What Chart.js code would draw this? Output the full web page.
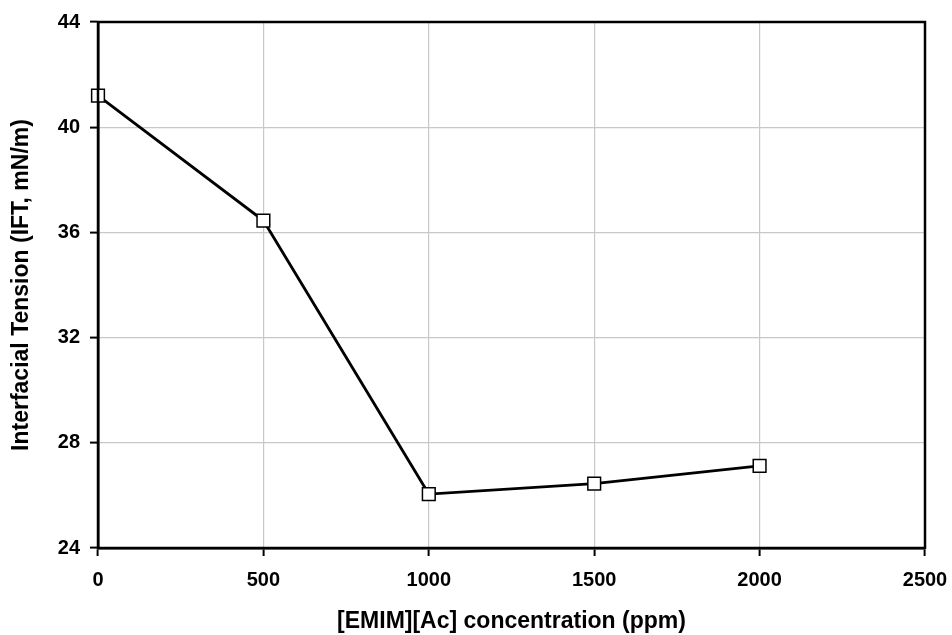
<!DOCTYPE html>
<html>
<head>
<meta charset="utf-8">
<script src="https://cdn.jsdelivr.net/npm/chart.js@4.4.1/dist/chart.umd.min.js"></script>
<style>
html,body{margin:0;padding:0;background:#fff;}
#wrap{width:952px;height:635px;position:relative;}
</style>
</head>
<body>
<div id="wrap"><canvas id="c" width="952" height="635"></canvas></div>
<script>
const concentrations = [0, 500, 1000, 1500, 2000];
const iftValues = [41.2, 36.45, 26.05, 26.45, 27.12];
const xTitle = "[EMIM][Ac] concentration (ppm)";
const yTitle = "Interfacial Tension (IFT, mN/m)";

const frame = {
  id: 'frame',
  afterDatasetsDraw(chart) {
    const {ctx, chartArea: a} = chart;
    ctx.save();
    ctx.strokeStyle = '#000';
    ctx.lineWidth = 2.5;
    ctx.strokeRect(a.left, a.top, a.right - a.left, a.bottom - a.top);
    ctx.restore();
  }
};

const fam = "'Liberation Sans', Arial, sans-serif";
const tickFont = {family: fam, weight: 'bold', size: 20};
const titleFont = {family: fam, weight: 'bold', size: 23};

new Chart(document.getElementById('c'), {
  type: 'scatter',
  data: {
    datasets: [{
      data: concentrations.map((x, i) => ({x, y: iftValues[i]})),
      showLine: true,
      clip: false,
      borderColor: '#000',
      borderWidth: 2.8,
      pointStyle: 'rect',
      pointRadius: 9,
      pointBorderWidth: 1.5,
      pointBackgroundColor: '#fff',
      pointBorderColor: '#000'
    }]
  },
  options: {
    responsive: false,
    animation: false,
    layout: {padding: {left: 0, right: 27, top: 22, bottom: 0}},
    plugins: {legend: {display: false}, tooltip: {enabled: false}},
    scales: {
      x: {
        type: 'linear', min: 0, max: 2500,
        ticks: {stepSize: 500, color: '#000', font: tickFont, padding: 12, callback: v => String(v)},
        grid: {color: '#c8c8c8', lineWidth: 1.2, tickColor: '#000', tickLength: 8, tickWidth: 2},
        border: {color: '#000', width: 2.5},
        title: {display: true, text: xTitle, color: '#000', font: titleFont, padding: {top: 0, bottom: 0}},
        afterFit(s) { s.height = 635 - 548; s.paddingLeft = 0; s.paddingRight = 0; }
      },
      y: {
        min: 24, max: 44,
        ticks: {stepSize: 4, color: '#000', font: tickFont, padding: 10, callback: v => String(v)},
        grid: {color: '#c8c8c8', lineWidth: 1.2, tickColor: '#000', tickLength: 8, tickWidth: 2},
        border: {color: '#000', width: 2.5},
        title: {display: true, text: yTitle, color: '#000', font: titleFont, padding: {top: 8, bottom: 0}},
        afterFit(s) { s.width = 98; s.paddingTop = 0; s.paddingBottom = 0; }
      }
    }
  },
  plugins: [frame]
});
</script>
</body>
</html>
